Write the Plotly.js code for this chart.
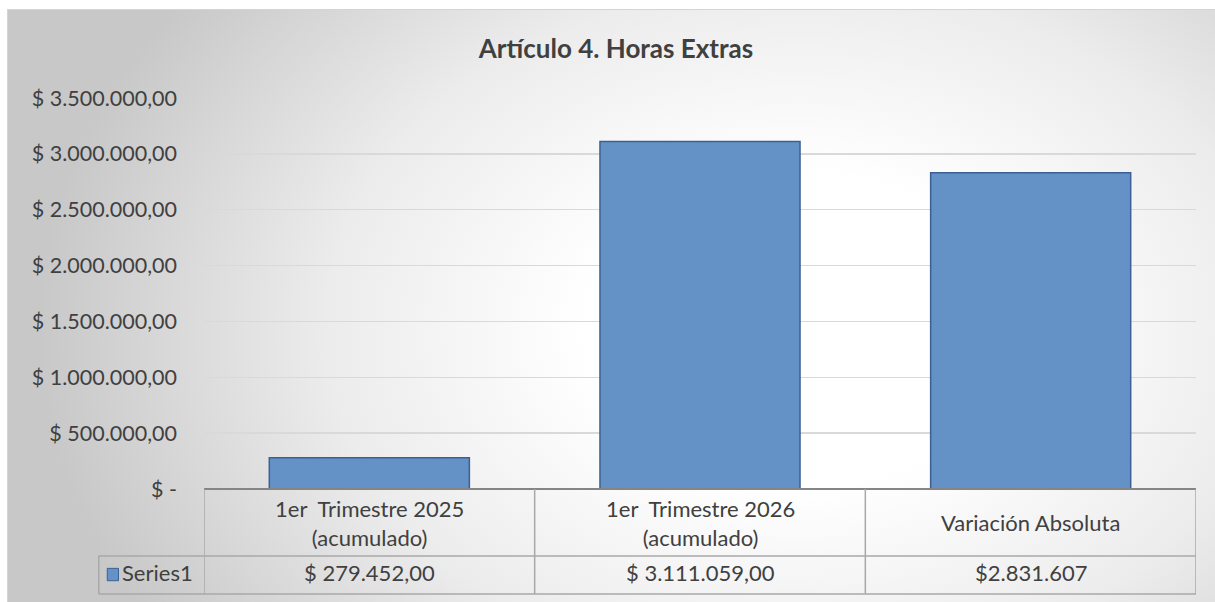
<!DOCTYPE html>
<html>
<head>
<meta charset="utf-8">
<script src="https://cdn.plot.ly/plotly-3.0.1.min.js"></script>
<style>
  html, body { margin: 0; padding: 0; background: #ffffff; }
  #wrap { position: relative; width: 1215px; height: 602px; overflow: hidden; }
  #bg { position: absolute; left: 7px; top: 9px; width: 1208px; height: 593px;
        border-top: 1px solid #d4d4d4; border-left: 1px solid #d4d4d4; box-sizing: border-box;
        background: radial-gradient(ellipse 760px 560px at 790px 320px, #ffffff 0%, #ffffff 28%, #ececec 62%, #c8c8c8 100%); }
  #chart { position: absolute; left: 0; top: 0; width: 1215px; height: 602px; }
</style>
</head>
<body>
<div id="wrap"><div id="bg"></div><div id="chart"></div></div>
<script>
// ---- data ----
const chartTitle = "Artículo 4. Horas Extras";
const seriesName = "Series1";
const categories = [
  "1er\u00A0 Trimestre 2025<br>(acumulado)",
  "1er\u00A0 Trimestre 2026<br>(acumulado)",
  "Variación Absoluta"
];
const values = [279452, 3111059, 2831607];
const valueLabels = ["$ 279.452,00", "$ 3.111.059,00", "$2.831.607"];
const yTickVals = [0, 500000, 1000000, 1500000, 2000000, 2500000, 3000000, 3500000];
const yTickText = ["$ -", "$ 500.000,00", "$ 1.000.000,00", "$ 1.500.000,00",
                   "$ 2.000.000,00", "$ 2.500.000,00", "$ 3.000.000,00", "$ 3.500.000,00"];

// ---- styles ----
const FONT = "Lato, 'Open Sans', sans-serif";
const TXT = "#404040";
const BAR = "#6592c6";
const BAR_LINE = "#3b6094";
const TABLE_LINE = "#a8a8a8";
const TSIZE = 22;

// table geometry in paper coordinates (plot area: 204..1196 x, 98..489 y)
const rowSplit = -0.1714;
const tableBottom = -0.2685;
const leftCell = -0.1061;

const idx = categories.map((_, i) => i);

const trace = {
  type: "bar",
  name: seriesName,
  x: idx,
  y: values,
  marker: { color: BAR, line: { color: BAR_LINE, width: 1.5 } },
  hoverinfo: "skip",
  showlegend: false
};

const shapes = [];
shapes.push({ type: "line", xref: "paper", yref: "paper", x0: 0, x1: 1, y0: 0, y1: 0,
              line: { color: "#858585", width: 2 } });
[-0.5, 0.5, 1.5, 2.5].forEach(v => {
  shapes.push({ type: "line", xref: "x", yref: "paper", x0: v, x1: v, y0: 0, y1: tableBottom,
                line: { color: TABLE_LINE, width: 1.5 } });
});
shapes.push({ type: "line", xref: "paper", yref: "paper", x0: leftCell, x1: 1, y0: rowSplit, y1: rowSplit,
              line: { color: TABLE_LINE, width: 1.5 } });
shapes.push({ type: "line", xref: "paper", yref: "paper", x0: leftCell, x1: 1, y0: tableBottom, y1: tableBottom,
              line: { color: TABLE_LINE, width: 1.5 } });
shapes.push({ type: "line", xref: "paper", yref: "paper", x0: leftCell, x1: leftCell, y0: rowSplit, y1: tableBottom,
              line: { color: TABLE_LINE, width: 1.5 } });
shapes.push({ type: "rect", xref: "paper", yref: "paper", x0: -0.0975, x1: -0.0862, y0: -0.2345, y1: -0.2030,
              fillcolor: BAR, line: { color: BAR_LINE, width: 1 } });

const annotations = [];
categories.forEach((c, i) => {
  annotations.push({ xref: "x", yref: "paper", x: i, y: -0.0857, text: c, showarrow: false,
                     xanchor: "center", yanchor: "middle",
                     font: { family: FONT, size: TSIZE, color: TXT } });
  annotations.push({ xref: "x", yref: "paper", x: i, y: -0.2148, text: valueLabels[i], showarrow: false,
                     xanchor: "center", yanchor: "middle",
                     font: { family: FONT, size: TSIZE, color: TXT } });
});
annotations.push({ xref: "paper", yref: "paper", x: -0.0845, y: -0.2148, text: seriesName, showarrow: false,
                   xanchor: "left", yanchor: "middle",
                   font: { family: FONT, size: TSIZE, color: TXT } });

const layout = {
  width: 1215,
  height: 602,
  margin: { l: 204, r: 19, t: 98, b: 113 },
  paper_bgcolor: "rgba(0,0,0,0)",
  plot_bgcolor: "rgba(0,0,0,0)",
  title: { text: "<b>" + chartTitle + "</b>", xref: "container", yref: "container",
           x: 0.507, y: 1 - 49 / 602, xanchor: "center", yanchor: "middle",
           font: { family: FONT, size: 26, color: TXT } },
  bargap: 0.395,
  xaxis: { type: "linear", range: [-0.5, 2.5], showticklabels: false, showgrid: false,
           zeroline: false, showline: false, ticks: "" },
  yaxis: { range: [0, 3500000], tickmode: "array", tickvals: yTickVals, ticktext: yTickText,
           showgrid: true, gridcolor: "#d9d9d9", gridwidth: 1.5, zeroline: false, showline: false,
           ticks: "", ticklabelstandoff: 26,
           tickfont: { family: FONT, size: 21.5, color: TXT } },
  shapes: shapes,
  annotations: annotations,
  showlegend: false
};

Plotly.newPlot("chart", [trace], layout, { displayModeBar: false, staticPlot: true });
</script>
</body>
</html>
